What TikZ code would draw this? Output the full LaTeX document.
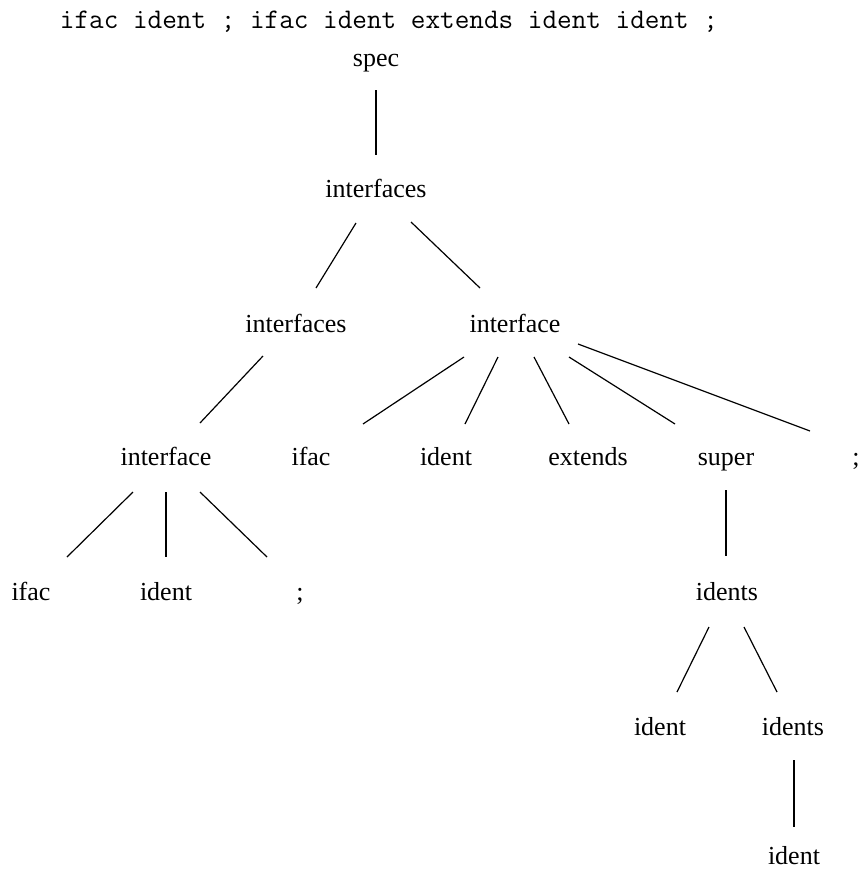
\documentclass[tikz,border=0pt]{standalone}
\usepackage{fontspec}
\setmainfont{Liberation Serif}
\usetikzlibrary{calc}
\begin{document}
\begin{tikzpicture}[x=0.75pt,y=-0.75pt,
  lbl/.style={anchor=base,inner sep=0pt,font=\fontsize{19.5}{22}\selectfont},
  src/.style={anchor=base,inner sep=0pt,font=\fontsize{21.3}{24}\selectfont\ttfamily},
  branch/.style={line width=0.9pt}]
\useasboundingbox (0,0) rectangle (865,871);

% input sentence
\node[src] (input) at (389,28) {ifac ident ; ifac ident extends ident ident ;};

% parse tree nodes (placed by baseline)
\node[lbl] (spec)    at (376,66)  {spec};
\node[lbl] (ifs1)    at (376,197) {interfaces};
\node[lbl] (ifs2)    at (296,332) {interfaces};
\node[lbl] (if1)     at (515,332) {interface};
\node[lbl] (if2)     at (166,465) {interface};
\node[lbl] (ifac1)   at (311,465) {ifac};
\node[lbl] (ident1)  at (446,465) {ident};
\node[lbl] (ext)     at (588,465) {extends};
\node[lbl] (super)   at (726,465) {super};
\node[lbl] (semi1)   at (856,465) {;};
\node[lbl] (ifac2)   at (31,600)  {ifac};
\node[lbl] (ident2)  at (166,600) {ident};
\node[lbl] (semi2)   at (300,600) {;};
\node[lbl] (idents1) at (727,600) {idents};
\node[lbl] (ident3)  at (660,735) {ident};
\node[lbl] (idents2) at (793,735) {idents};
\node[lbl] (ident4)  at (794,864) {ident};

% branches
\draw[branch] ($(spec.base)+(0,24)$)    -- ($(ifs1.base)+(0,-42)$);
\draw[branch] ($(ifs1.base)+(-20,26)$)  -- ($(ifs2.base)+(20,-44)$);
\draw[branch] ($(ifs1.base)+(35,25)$)   -- ($(if1.base)+(-35,-44)$);
\draw[branch] ($(ifs2.base)+(-33,24)$)  -- ($(if2.base)+(34,-42)$);
\draw[branch] ($(if1.base)+(-51,25)$)   -- ($(ifac1.base)+(52,-41)$);
\draw[branch] ($(if1.base)+(-17,25)$)   -- ($(ident1.base)+(19,-41)$);
\draw[branch] ($(if1.base)+(19,25)$)    -- ($(ext.base)+(-19,-41)$);
\draw[branch] ($(if1.base)+(54,25)$)    -- ($(super.base)+(-51,-41)$);
\draw[branch] ($(if1.base)+(63,12)$)    -- ($(semi1.base)+(-46,-34)$);
\draw[branch] ($(if2.base)+(-33,27)$)   -- ($(ifac2.base)+(36,-43)$);
\draw[branch] ($(if2.base)+(0,27)$)     -- ($(ident2.base)+(0,-43)$);
\draw[branch] ($(if2.base)+(34,27)$)    -- ($(semi2.base)+(-33,-43)$);
\draw[branch] ($(super.base)+(0,25)$)   -- ($(idents1.base)+(-1,-44)$);
\draw[branch] ($(idents1.base)+(-18,27)$) -- ($(ident3.base)+(17,-43)$);
\draw[branch] ($(idents1.base)+(17,27)$)  -- ($(idents2.base)+(-16,-43)$);
\draw[branch] ($(idents2.base)+(1,25)$)   -- ($(ident4.base)+(0,-37)$);
\end{tikzpicture}
\end{document}
